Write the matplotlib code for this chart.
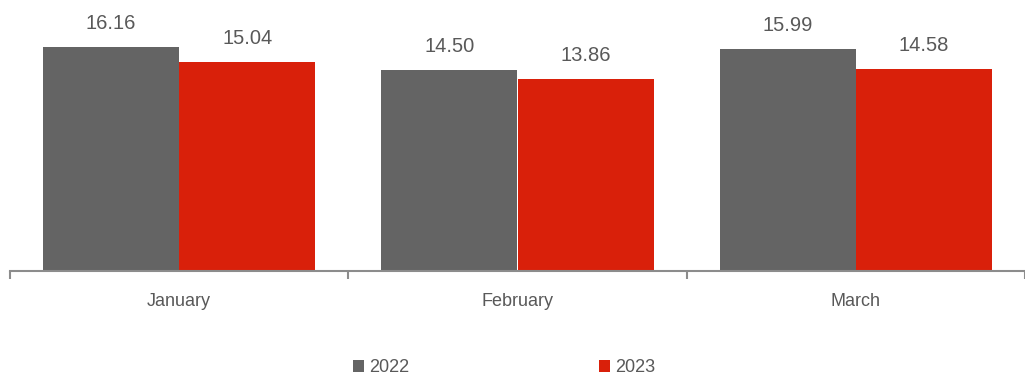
import matplotlib.pyplot as plt
import numpy as np

plt.rcParams['font.family'] = ['Liberation Sans Narrow', 'Liberation Sans', 'DejaVu Sans']

months = ['January', 'February', 'March']
series_names = ['2022', '2023']
values_2022 = [16.16, 14.50, 15.99]
values_2023 = [15.04, 13.86, 14.58]

gray = '#646464'
red = '#d9200a'
text_color = '#595959'


def plot_bars():
    fig = plt.figure(figsize=(10.25, 3.78), dpi=100)
    ax = fig.add_axes([10 / 1025, 107 / 378, 1015 / 1025, 250 / 378])

    x = np.arange(len(months))
    width = 0.402
    bars1 = ax.bar(x - width / 2, values_2022, width, color=gray, label=series_names[0])
    bars2 = ax.bar(x + width / 2, values_2023, width, color=red, label=series_names[1])

    # value labels above each bar
    for bars, vals in ((bars1, values_2022), (bars2, values_2023)):
        for b, v in zip(bars, vals):
            ax.annotate(f'{v:.2f}', (b.get_x() + b.get_width() / 2, v),
                        xytext=(0, 10), textcoords='offset points',
                        ha='center', va='bottom', fontsize=14.5, color=text_color)

    ax.set_xlim(-0.5, 2.474)
    ax.set_ylim(0, 18)

    # ticks between categories, labels at the centres
    ax.set_xticks(np.arange(len(months) + 1) - 0.5)
    ax.set_xticklabels([])
    ax.tick_params(axis='x', which='major', length=6, width=1.5, color='#8c8c8c')
    ax.set_xticks(x, minor=True)
    ax.set_xticklabels(months, minor=True, fontsize=13, color=text_color)
    ax.tick_params(axis='x', which='minor', length=0, pad=16)

    ax.set_yticks([])
    for side in ('top', 'right', 'left'):
        ax.spines[side].set_visible(False)
    ax.spines['bottom'].set_color('#8c8c8c')
    ax.spines['bottom'].set_linewidth(1.5)

    fig.legend(loc='center', bbox_to_anchor=(504 / 1025, 1 - 368 / 378), ncol=2,
               frameon=False, fontsize=13, labelcolor=text_color,
               handlelength=0.6, handleheight=0.6, handletextpad=0.3,
               columnspacing=10.5)

    fig.savefig('out.png', dpi=100)


plot_bars()
